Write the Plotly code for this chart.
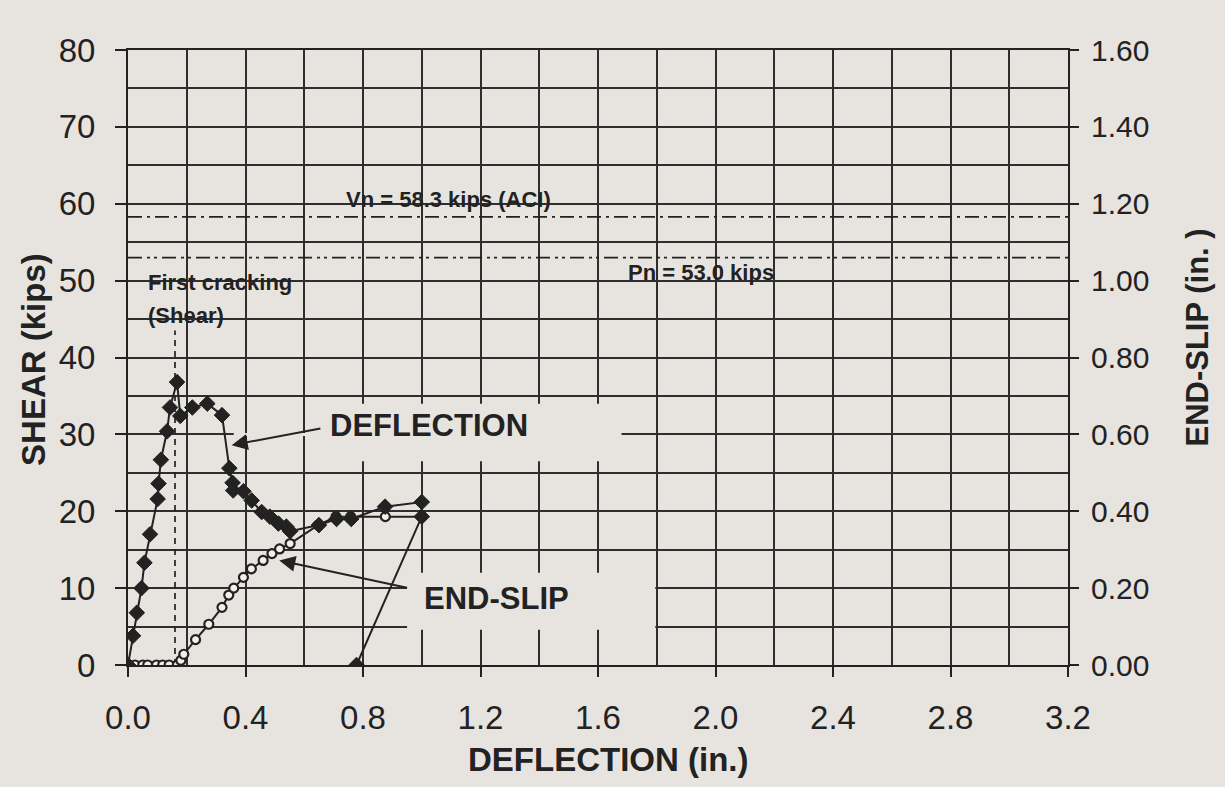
import plotly.graph_objects as go

# ---------------- data ----------------
defl_x = [0, 0.017, 0.030, 0.046, 0.056, 0.075, 0.101, 0.104, 0.112, 0.133, 0.143, 0.167,
          0.178, 0.219, 0.270, 0.320, 0.345, 0.356, 0.358, 0.393, 0.421, 0.455, 0.483,
          0.512, 0.539, 0.552, 0.650, 0.710, 0.760, 0.875, 1.000, 1.000, 0.778]
defl_y = [0, 3.8, 6.8, 10.0, 13.3, 17.0, 21.6, 23.6, 26.7, 30.4, 33.5, 36.8,
          32.4, 33.5, 34.0, 32.5, 25.6, 23.7, 22.7, 22.6, 21.4, 19.9, 19.3,
          18.4, 18.0, 17.4, 18.2, 19.0, 19.0, 20.6, 21.2, 19.3, 0]

slip_x = [0, 0.024, 0.050, 0.067, 0.097, 0.118, 0.140, 0.168, 0.180, 0.190, 0.230, 0.275,
          0.320, 0.343, 0.360, 0.393, 0.420, 0.460, 0.490, 0.516, 0.552, 0.647, 0.708,
          0.758, 0.876, 1.000]
slip_y = [0, 0, 0, 0, 0, 0, 0, 0, 0.6, 1.4, 3.3, 5.3,
          7.5, 9.1, 10.0, 11.4, 12.5, 13.6, 14.5, 15.1, 15.8, 18.2, 19.3,
          19.3, 19.3, 19.3]

vn_value = 58.3
pn_value = 53.0
first_crack_x = 0.16

x_ticks = [0.0, 0.4, 0.8, 1.2, 1.6, 2.0, 2.4, 2.8, 3.2]
x_ticklabels = ["0.0", "0.4", "0.8", "1.2", "1.6", "2.0", "2.4", "2.8", "3.2"]
y_ticks = [0, 10, 20, 30, 40, 50, 60, 70, 80]
y2_ticks = [0.0, 0.2, 0.4, 0.6, 0.8, 1.0, 1.2, 1.4, 1.6]
y2_ticklabels = ["0.00", "0.20", "0.40", "0.60", "0.80", "1.00", "1.20", "1.40", "1.60"]

# ---------------- styling ----------------
BG = "#e7e4e0"
INK = "#222222"
GRID = "#2e2e2e"
FONT = "Liberation Sans, Arial, sans-serif"

fig = go.Figure()

fig.add_trace(go.Scatter(
    x=slip_x, y=slip_y, mode="lines+markers", name="END-SLIP",
    line=dict(color=INK, width=2),
    marker=dict(symbol="circle", size=9, color="#f2f0ec",
                line=dict(color=INK, width=2.2)),
    showlegend=False,
))
fig.add_trace(go.Scatter(
    x=defl_x, y=defl_y, mode="lines+markers", name="DEFLECTION",
    line=dict(color=INK, width=2),
    marker=dict(symbol="diamond", size=12, color=INK,
                line=dict(color=INK, width=1)),
    showlegend=False,
))
# invisible trace to activate the right axis
fig.add_trace(go.Scatter(x=[0], y=[0], yaxis="y2", mode="markers",
                         marker=dict(opacity=0), showlegend=False, hoverinfo="skip"))

shapes = [
    # blank label areas (paper showing through the grid)
    dict(type="rect", xref="x", yref="y", x0=0.63, x1=1.68, y0=26.5, y1=34.0,
         fillcolor=BG, line=dict(width=0), layer="between"),
    dict(type="line", xref="x", yref="y", x0=0.36, x1=0.63, y0=30, y1=30,
         line=dict(color=BG, width=3), layer="between"),
    dict(type="rect", xref="x", yref="y", x0=0.95, x1=1.795, y0=4.6, y1=12.0,
         fillcolor=BG, line=dict(width=0), layer="between"),
    # Vn and Pn reference lines
    dict(type="line", xref="x", yref="y", x0=0, x1=3.2, y0=vn_value, y1=vn_value,
         line=dict(color=INK, width=1.7, dash="14px,5px,3px,5px"), layer="between"),
    dict(type="line", xref="x", yref="y", x0=0, x1=3.2, y0=pn_value, y1=pn_value,
         line=dict(color=INK, width=1.7, dash="14px,5px,3px,4px,3px,5px"), layer="between"),
    # first cracking marker
    dict(type="line", xref="x", yref="y", x0=first_crack_x, x1=first_crack_x, y0=0, y1=43.5,
         line=dict(color=INK, width=1.7, dash="6px,5px"), layer="between"),
]

ann_font_big = dict(family=FONT, size=31, color=INK)
ann_font_title = dict(family=FONT, size=33, color=INK)
ann_font_small = dict(family=FONT, size=22, color=INK)
annotations = [
    dict(text="<b>SHEAR (kips)</b>", xref="paper", yref="paper", x=-0.1, y=0.496,
         textangle=-90, showarrow=False, xanchor="center", yanchor="middle", font=ann_font_title),
    dict(text="<b>END-SLIP (in. )</b>", xref="paper", yref="paper", x=1.138, y=0.532,
         textangle=-90, showarrow=False, xanchor="center", yanchor="middle",
         font=dict(family=FONT, size=31, color=INK)),
    dict(text="<b>DEFLECTION (in.)</b>", xref="paper", yref="paper", x=0.511, y=-0.153,
         showarrow=False, xanchor="center", yanchor="middle", font=ann_font_title),
    dict(text="<b>DEFLECTION</b>", xref="x", yref="y", x=0.68, y=31.2,
         showarrow=False, xanchor="left", yanchor="middle", font=ann_font_big),
    dict(text="<b>END-SLIP</b>", xref="x", yref="y", x=1.0, y=8.6,
         showarrow=False, xanchor="left", yanchor="middle", font=ann_font_big),
    dict(text="", xref="x", yref="y", axref="x", ayref="y", x=0.353, y=28.6, ax=0.66, ay=30.8,
         showarrow=True, arrowhead=2, arrowsize=1.6, arrowwidth=2, arrowcolor=INK),
    dict(text="", xref="x", yref="y", axref="x", ayref="y", x=0.515, y=13.6, ax=0.955, ay=10.0,
         showarrow=True, arrowhead=2, arrowsize=1.6, arrowwidth=2, arrowcolor=INK),
    dict(text="<b>Vn = 58.3 kips (ACI)</b>", xref="x", yref="y", x=1.09, y=60.6,
         showarrow=False, xanchor="center", yanchor="middle", font=ann_font_small),
    dict(text="<b>Pn = 53.0 kips</b>", xref="x", yref="y", x=1.95, y=51.0,
         showarrow=False, xanchor="center", yanchor="middle", font=ann_font_small),
    dict(text="<b>First cracking</b>", xref="x", yref="y", x=0.06, y=49.7,
         showarrow=False, xanchor="left", yanchor="middle", font=ann_font_small),
    dict(text="<b>(Shear)</b>", xref="x", yref="y", x=0.06, y=45.4,
         showarrow=False, xanchor="left", yanchor="middle", font=ann_font_small),
]

fig.update_layout(
    width=1225, height=787,
    margin=dict(l=128, r=157, t=50, b=122),
    paper_bgcolor=BG, plot_bgcolor=BG,
    shapes=shapes, annotations=annotations,
    showlegend=False,
    xaxis=dict(
        range=[0, 3.2], tickmode="array", tickvals=x_ticks, ticktext=x_ticklabels,
        ticks="outside", ticklen=10, tickwidth=1.8, tickcolor=INK,
        showgrid=True, gridcolor=GRID, gridwidth=1.6,
        minor=dict(dtick=0.2, tick0=0, showgrid=True, gridcolor=GRID, gridwidth=1.6, ticks=""),
        showline=True, linecolor=INK, linewidth=2, mirror=True,
        zeroline=False, tickfont=dict(family=FONT, size=33, color=INK), ticklabelstandoff=12,
    ),
    yaxis=dict(
        range=[0, 80], tickmode="array", tickvals=y_ticks,
        ticks="outside", ticklen=11, tickwidth=1.8, tickcolor=INK,
        showgrid=True, gridcolor=GRID, gridwidth=1.6,
        minor=dict(dtick=5, tick0=0, showgrid=True, gridcolor=GRID, gridwidth=1.6, ticks=""),
        showline=True, linecolor=INK, linewidth=2, mirror=True,
        zeroline=False, tickfont=dict(family=FONT, size=33, color=INK), ticklabelstandoff=13,
    ),
    yaxis2=dict(
        range=[0, 1.6], overlaying="y", side="right", tickmode="array",
        tickvals=y2_ticks, ticktext=y2_ticklabels,
        ticks="outside", ticklen=10, tickwidth=1.8, tickcolor=INK,
        showgrid=False, zeroline=False, showline=False,
        tickfont=dict(family=FONT, size=30, color=INK), ticklabelstandoff=6,
    ),
)

fig.write_html("out.html")
